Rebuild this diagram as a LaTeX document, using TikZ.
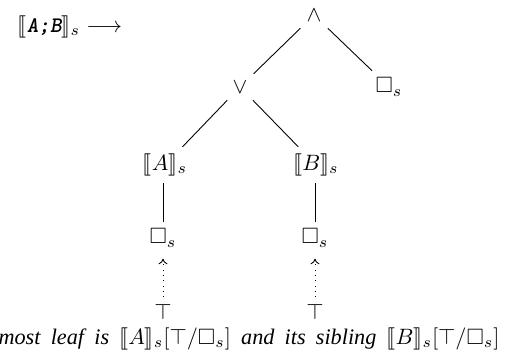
\documentclass[tikz,border=0pt]{standalone}
\usepackage{amsmath}
\usepackage{amssymb}
\usepackage{stmaryrd}
\usepackage{fontspec}
\setmainfont{Liberation Serif}
\usetikzlibrary{arrows.meta}
\begin{document}
\begin{tikzpicture}[x=0.45pt,y=-0.45pt,
  tn/.style={inner sep=3pt, font=\fontsize{10}{12}\selectfont},
  edge/.style={draw, line width=0.4pt},
  dotarrow/.style={draw, dotted, line width=0.4pt, -{To[length=2.5pt,width=4pt]}, shorten >=2pt}]
\useasboundingbox (0,0) rectangle (512,362);
\clip (0,0) rectangle (512,362);
\node[tn] (lhs) at (70,27) {$\llbracket\mbox{\ttfamily\bfseries\slshape A;B}\rrbracket_s \longrightarrow$};
\node[tn] (and) at (314,15) {$\wedge$};
\node[tn] (or) at (240,87) {$\vee$};
\node[tn] (boxr) at (389,87) {$\square_s$};
\node[tn] (a) at (165,165) {$\llbracket A\rrbracket_s$};
\node[tn] (b) at (316,165) {$\llbracket B\rrbracket_s$};
\node[tn] (boxa) at (163,238) {$\square_s$};
\node[tn] (boxb) at (315,238) {$\square_s$};
\node[tn] (topa) at (163,312) {$\top$};
\node[tn] (topb) at (315,312) {$\top$};
\draw[edge] (and) -- (or);
\draw[edge] (and) -- (boxr);
\draw[edge] (or) -- (a);
\draw[edge] (or) -- (b);
\draw[edge] (a.south -| boxa) -- (boxa);
\draw[edge] (b.south -| boxb) -- (boxb);
\draw[dotarrow] (topa) -- (boxa);
\draw[dotarrow] (topb) -- (boxb);
\node[tn, anchor=base east, inner sep=0pt] (cap) at (500,344)
  {\spaceskip=4.6pt\relax\itshape The leftmost leaf is $\llbracket A\rrbracket_s[\top/\square_s]$ and its sibling $\llbracket B\rrbracket_s[\top/\square_s]$};
\end{tikzpicture}
\end{document}
